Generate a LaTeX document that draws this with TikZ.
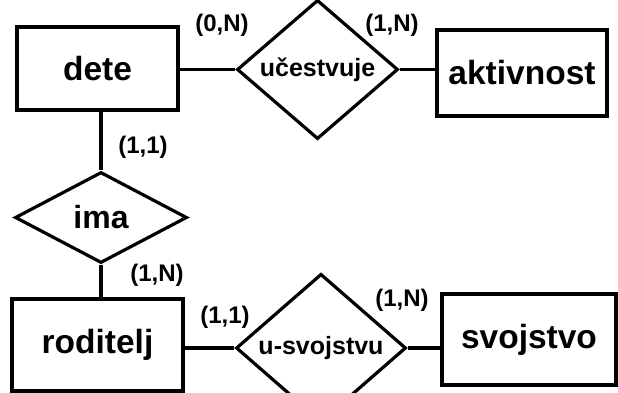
\documentclass[tikz,border=0pt]{standalone}
\usepackage{fontspec}
\setmainfont{Liberation Sans}
\usetikzlibrary{shapes.geometric}
\begin{document}
\begin{tikzpicture}[x=1pt,y=-1pt,
  line width=3.2pt,
  entity/.style={draw, rectangle, inner sep=0pt, font=\fontsize{33.5}{36}\selectfont\bfseries},
  rel/.style={draw, diamond, inner sep=0pt, font=\fontsize{25}{28}\selectfont\bfseries},
  card/.style={inner sep=0pt, font=\fontsize{24}{27}\selectfont\bfseries}]
\useasboundingbox (0,0) rectangle (618,393);
\clip (0,0) rectangle (618,393);
% entities
\node[entity, minimum width=161pt, minimum height=83pt] (dete) at (97.5,68.5) {dete};
\node[entity, minimum width=170pt, minimum height=86pt] (akt) at (522,73) {aktivnost};
\node[entity, minimum width=171pt, minimum height=92pt] (rod) at (97.5,345) {roditelj};
\node[entity, minimum width=174pt, minimum height=91pt] (svo) at (529,339.5) {svojstvo};
% relationships
\node[rel, minimum width=161pt, minimum height=101pt] (uce) at (317.5,69.5) {učestvuje};
\node[rel, minimum width=172pt, minimum height=91pt, font=\fontsize{32}{36}\selectfont\bfseries] (ima) at (101,217.5) {ima};
\node[rel, minimum width=170pt, minimum height=102pt] (usv) at (321,348) {u-svojstvu};
% connectors
\draw (dete.east |- uce.west) -- (uce.west);
\draw (uce.east) -- (uce.east -| akt.west);
\draw (ima.north) -- (ima.north |- dete.south);
\draw (ima.south) -- (ima.south |- rod.north);
\draw (rod.east |- usv.west) -- (usv.west);
\draw (usv.east) -- (usv.east -| svo.west);
% cardinalities
\node[card] (c1) at (222,25) {(0,N)};
\node[card] (c2) at (392,25) {(1,N)};
\node[card] (c3) at (143,147) {(1,1)};
\node[card] (c4) at (157,275) {(1,N)};
\node[card] (c5) at (225,317) {(1,1)};
\node[card] (c6) at (402,300) {(1,N)};
\end{tikzpicture}
\end{document}
